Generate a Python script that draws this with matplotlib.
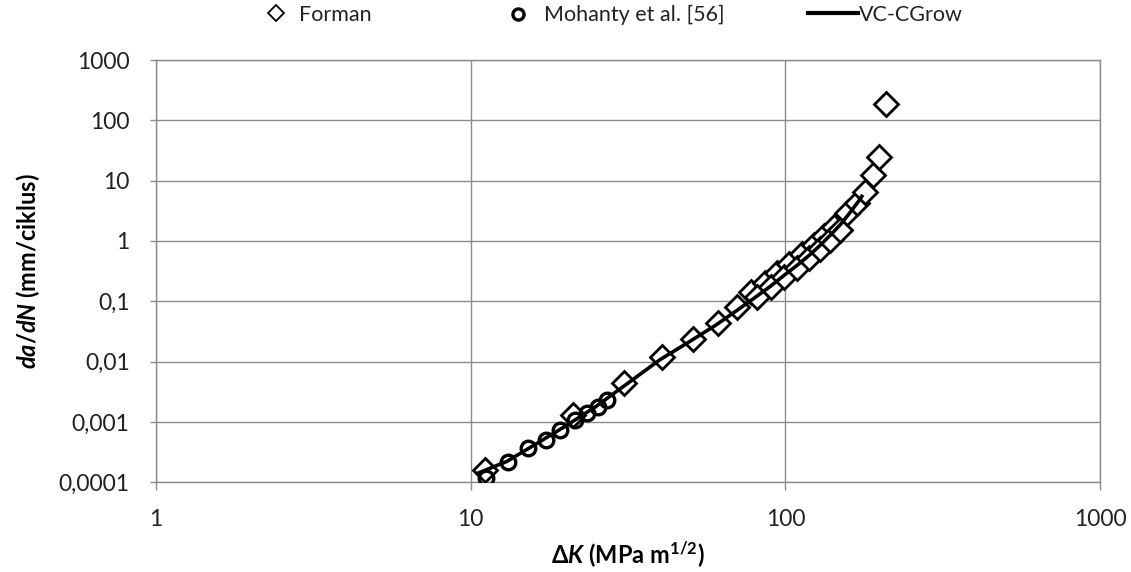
import numpy as np
import matplotlib
matplotlib.use('Agg')
import matplotlib.pyplot as plt
from matplotlib.lines import Line2D
from matplotlib.ticker import FixedLocator, FixedFormatter

plt.rcParams['font.family'] = ['Lato', 'DejaVu Sans']
plt.rcParams['mathtext.fontset'] = 'custom'
plt.rcParams['mathtext.rm'] = 'Lato:bold'
plt.rcParams['mathtext.it'] = 'Lato:bold:italic'
plt.rcParams['mathtext.bf'] = 'Lato:bold'

# Forman (diamonds)
forman_dk = [11.1, 21.1, 30.8, 40.4, 50.7, 61.3, 70.4,
             78, 86, 94, 103, 113, 123, 133, 143,
             81, 90, 99, 109, 119, 129, 139, 149,
             157, 169, 179, 190, 199, 209]
forman_dadn = [1.6e-4, 1.3e-3, 4.4e-3, 0.0118, 0.0235, 0.043, 0.079,
               0.14, 0.20, 0.29, 0.42, 0.60, 0.85, 1.2, 1.7,
               0.12, 0.17, 0.25, 0.36, 0.52, 0.74, 1.05, 1.5,
               2.9, 4.3, 6.6, 12.3, 24.5, 185]

# Mohanty et al. [56] (circles)
mohanty_dk = [11.2, 13.1, 15.2, 17.4, 19.2, 21.4, 23.5, 25.3, 27.2]
mohanty_dadn = [1.16e-4, 2.15e-4, 3.7e-4, 5.0e-4, 7.3e-4, 1.07e-3, 1.39e-3, 1.75e-3, 2.3e-3]

# VC-CGrow (line)
vc_dk = [10.5, 13, 16, 20, 25, 30, 40, 50, 60, 70, 80, 90, 100,
         110, 120, 130, 140, 150, 160, 170, 175]
vc_dadn = [1.4e-4, 2.2e-4, 4.2e-4, 8.5e-4, 1.8e-3, 3.6e-3, 0.0108, 0.022, 0.040,
           0.070, 0.115, 0.18, 0.28, 0.41, 0.60, 0.88, 1.3, 1.9, 2.9, 4.4, 5.5]

xticks = [1, 10, 100, 1000]
xticklabels = ['1', '10', '100', '1000']
yticks = [1e-4, 1e-3, 1e-2, 1e-1, 1, 10, 100, 1000]
yticklabels = ['0,0001', '0,001', '0,01', '0,1', '1', '10', '100', '1000']

fig = plt.figure(figsize=(11.31, 5.72), dpi=100)
ax = fig.add_axes([0.138, 0.157, 0.9726 - 0.138, 0.895 - 0.157])

ax.plot(forman_dk, forman_dadn, linestyle='none', marker='D', ms=12.5,
        mfc='white', mec='black', mew=2.0, zorder=3)
ax.plot(mohanty_dk, mohanty_dadn, linestyle='none', marker='o', ms=10.5,
        mfc='none', mec='black', mew=2.4, zorder=4)
ax.plot(vc_dk, vc_dadn, color='black', lw=2.6, zorder=5)

ax.set_xscale('log')
ax.set_yscale('log')
ax.set_xlim(1, 1000)
ax.set_ylim(1e-4, 1000)
ax.xaxis.set_major_locator(FixedLocator(xticks))
ax.xaxis.set_major_formatter(FixedFormatter(xticklabels))
ax.yaxis.set_major_locator(FixedLocator(yticks))
ax.yaxis.set_major_formatter(FixedFormatter(yticklabels))
ax.minorticks_off()

ax.grid(True, color='#8c8c8c', lw=1.0)
ax.set_axisbelow(True)
for s in ax.spines.values():
    s.set_color('#8c8c8c')
    s.set_linewidth(1.0)
ax.tick_params(axis='x', length=6, width=1, color='#8c8c8c', pad=13, labelsize=16.5, labelcolor='#222222')
ax.tick_params(axis='y', length=4, width=1, color='#8c8c8c', pad=15, labelsize=16.5, labelcolor='#222222')

ax.set_xlabel(r'$\Delta K$ (MPa m$^{1/2}$)', fontsize=17, fontweight='bold', labelpad=7)
ax.set_ylabel(r'$da/dN$ (mm/ciklus)', fontsize=17, fontweight='bold', labelpad=12)

# legend entries spread across the top
h1 = Line2D([], [], linestyle='none', marker='D', ms=8, mfc='white', mec='black', mew=1.3)
h2 = Line2D([], [], linestyle='none', marker='o', ms=8, mfc='none', mec='black', mew=2.4)
h3 = Line2D([], [], color='black', lw=3)
for h, lab, xpos, hl, pad in [(h1, 'Forman', 254 / 1131, 2.0, 0.1),
                             (h2, 'Mohanty et al. [56]', 496 / 1131, 2.0, 0.25),
                             (h3, 'VC-CGrow', 808 / 1131, 2.33, 0.05)]:
    fig.legend(handles=[h], labels=[lab], loc='center left',
               bbox_to_anchor=(xpos, 1 - 15 / 572), frameon=False,
               borderpad=0, borderaxespad=0, handlelength=hl,
               handletextpad=pad, fontsize=15.5, labelcolor='#222222')

fig.savefig('out.png', dpi=100)
